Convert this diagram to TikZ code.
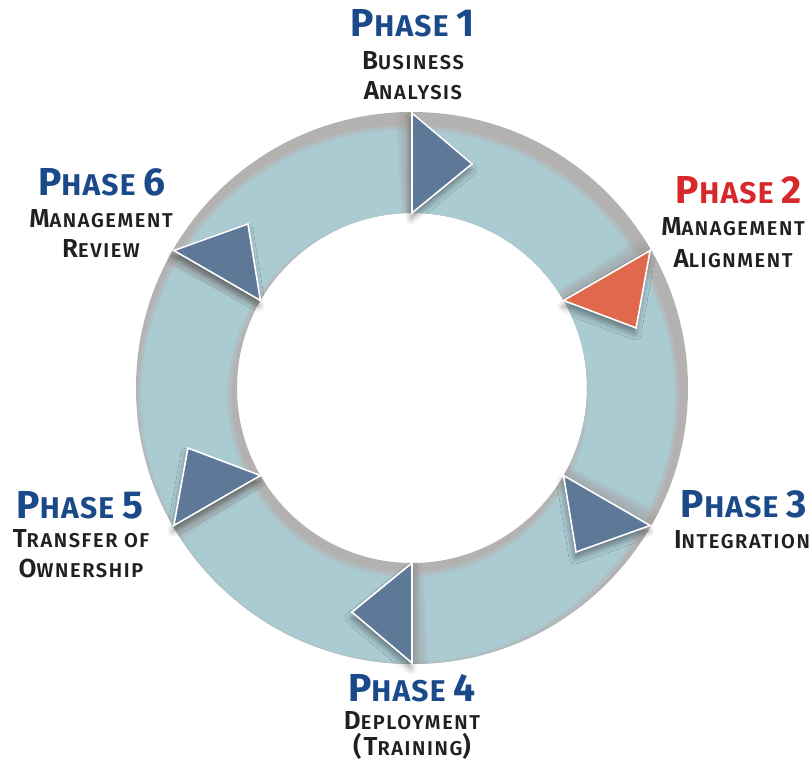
\documentclass[tikz,border=0pt]{standalone}
\usepackage{fontspec}
\setmainfont{Fira Sans}
\newfontfamily\headfont{Fira Sans}[LetterSpace=4]
\newfontfamily\subfont{Fira Sans}[LetterSpace=8, UprightFont={* SemiBold}]
\usetikzlibrary{shadows.blur}
\definecolor{ringblue}{HTML}{ABCBD3}
\definecolor{ringgray}{HTML}{B4B2B1}
\definecolor{shadegray}{HTML}{A29E9C}
\definecolor{triblue}{HTML}{5E7897}
\definecolor{trired}{HTML}{E0684C}
\definecolor{headblue}{HTML}{1B4A8A}
\definecolor{headred}{HTML}{D7282C}
\definecolor{subblack}{HTML}{231F20}
\newcommand{\phasehead}[1]{{\headfont\bfseries{\fontsize{39}{39}\selectfont P}{\fontsize{30}{30}\selectfont HASE }{\fontsize{39}{39}\selectfont #1}}}
\newcommand{\scw}[2]{{\subfont{\fontsize{26}{26}\selectfont #1}{\fontsize{20}{20}\selectfont #2}}}
\tikzset{
  tri/.style={draw=white, line width=1.6pt, line join=miter,
    blur shadow={shadow xshift=-1pt, shadow yshift=-6pt, shadow blur radius=6pt, shadow opacity=40}},
  head/.style={anchor=base, inner sep=0pt, text=headblue},
  sub/.style={anchor=base, inner sep=0pt, text=subblack},
}
\begin{document}
\begin{tikzpicture}[x=1pt,y=1pt]
\path[use as bounding box] (0,0) rectangle (812,766);
% ring base (shadow grey)
\fill[ringgray, even odd rule] (412,378) circle (276) (412,378) circle (175);
\begin{scope}[even odd rule]
  \clip (412,378) circle (276) (412,378) circle (175);
  \foreach \k/\m in {0/30,1/55,2/80}{
    \draw[ringblue!\m!ringgray, line width=2.2pt] (408,370) circle (270-2*\k) (408,370) circle (177+2*\k);
  }
  \fill[ringblue] (408,370) circle (265.5) (408,370) circle (181.5);
  % shadows at the end of each segment
  \begin{scope}[shift={(412,378)}]
    \foreach \t in {90,30,-30,-90,-150,150}{
      \foreach \d in {0.5,1,...,3.5}{
        \fill[shadegray, opacity=0.14] (\t:175) arc[start angle=\t, end angle=\t+\d, radius=175]
          -- (\t+\d:276) arc[start angle=\t+\d, end angle=\t, radius=276] -- cycle;
      }
    }
  \end{scope}
\end{scope}
% triangles
\begin{scope}[shift={(412,378)}]
  \foreach \t in {90,-30,-90,-150,150}{
    \filldraw[tri, fill=triblue] (\t:175) -- (\t:275) -- (\t-15:232) -- cycle;
  }
  \filldraw[tri, fill=trired] (30:175) -- (30:275) -- (15:232) -- cycle;
\end{scope}
% labels
\node[head] (p1h) at (413,729) {\phasehead{1}};
\node[sub] (p1a) at (413,696) {\scw{B}{USINESS}};
\node[sub] (p1b) at (413,666) {\scw{A}{NALYSIS}};
\node[head, text=headred] (p2h) at (739,562) {\phasehead{2}};
\node[sub] (p2a) at (733,530) {\scw{M}{ANAGEMENT}};
\node[sub] (p2b) at (733,498) {\scw{A}{LIGNMENT}};
\node[head] (p3h) at (744,248) {\phasehead{3}};
\node[sub] (p3a) at (742,217) {\scw{I}{NTEGRATION}};
\node[head] (p4h) at (412,64) {\phasehead{4}};
\node[sub] (p4a) at (412,36) {\scw{D}{EPLOYMENT}};
\node[sub] (p4b) at (412,10) {\scw{(T}{RAINING}\scw{)}{}};
\node[head] (p5h) at (80,247) {\phasehead{5}};
\node[sub] (p5a) at (81,218) {\scw{T}{RANSFER OF}};
\node[sub] (p5b) at (81,188) {\scw{O}{WNERSHIP}};
\node[head] (p6h) at (102,570) {\phasehead{6}};
\node[sub] (p6a) at (101,538) {\scw{M}{ANAGEMENT}};
\node[sub] (p6b) at (101,508) {\scw{R}{EVIEW}};
\end{tikzpicture}
\end{document}
